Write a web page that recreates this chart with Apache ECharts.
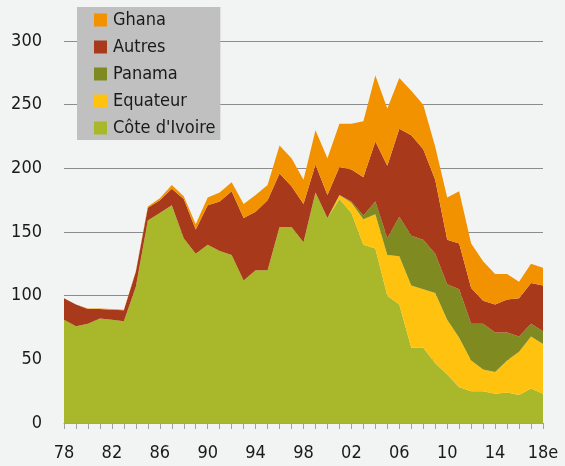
<!DOCTYPE html>
<html>
<head>
<meta charset="utf-8">
<script src="https://cdn.jsdelivr.net/npm/echarts@6/dist/echarts.min.js"></script>
<style>
  html, body { margin: 0; padding: 0; background: #f2f4f4; }
  #chart { width: 565px; height: 466px; }
</style>
</head>
<body>
<div id="chart"></div>
<script>
var years = [];
for (var y = 1978; y <= 2018; y++) years.push(String(y));

// tonnes (milliers)
var coteIvoire = [81, 76, 78, 82, 81, 80, 107, 159, 165, 171, 145, 133, 140, 135, 132, 112, 120, 120, 154, 154, 142, 181, 161, 176, 165, 140, 137, 100, 93, 59, 59, 47, 38, 28, 25, 25, 23, 24, 22, 27, 23];
var equateur = [0, 0, 0, 0, 0, 0, 0, 0, 0, 0, 0, 0, 0, 0, 0, 0, 0, 0, 0, 0, 0, 0, 0, 3, 8, 20, 27, 32, 38, 49, 46, 55, 43, 39, 24, 17, 17, 25, 34, 41, 39];
var panama = [0, 0, 0, 0, 0, 0, 0, 0, 0, 0, 0, 0, 0, 0, 0, 0, 0, 0, 0, 0, 0, 0, 0, 0, 1, 3, 10, 13, 31, 39, 39, 31, 28, 38, 29, 36, 31, 22, 12, 10, 10];
var autres = [17, 17, 11.5, 7.5, 8, 8.6, 11.8, 10, 10, 13, 31, 19, 31, 39, 50, 49, 46, 55, 42, 32, 30, 22, 18, 22, 25, 30, 47, 57, 69, 79, 71, 58, 35, 36, 28, 18, 22, 26, 30, 32, 36];
var ghana = [0, 0, 0.5, 0.5, 0.5, 0.4, 0.5, 1, 1.5, 3, 2, 4, 6, 7, 7, 11, 13, 12, 22, 22, 19, 27, 29, 34, 36, 44, 52, 45, 40, 35, 35, 26, 33, 41, 35, 31, 24, 20, 13, 15, 14];

var font = "'Liberation Sans Narrow', 'DejaVu Sans Condensed', sans-serif";

function area(name, data, color) {
  return {
    name: name,
    type: 'line',
    stack: 'total',
    data: data,
    symbol: 'none',
    lineStyle: { width: 0 },
    areaStyle: { color: color, opacity: 1 },
    itemStyle: { color: color }
  };
}

var chart = echarts.init(document.getElementById('chart'));
chart.setOption({
  backgroundColor: '#f2f4f4',
  animation: false,
  grid: { left: 64, right: 22, top: 41, bottom: 43 },
  legend: {
    orient: 'vertical',
    left: 77,
    top: 7,
    padding: [4, 5, 3, 17],
    backgroundColor: '#c0c0c0',
    itemWidth: 13,
    itemHeight: 13,
    itemGap: 9,
    icon: 'rect',
    data: ['Ghana', 'Autres', 'Panama', 'Equateur', "Côte d'Ivoire"],
    textStyle: { fontFamily: font, fontSize: 18, color: '#1a1a1a', padding: [0, 0, 0, 1] }
  },
  xAxis: {
    type: 'category',
    data: years,
    boundaryGap: false,
    axisLine: { lineStyle: { color: '#a0a0a0', width: 1 } },
    axisTick: { interval: 0, length: 6, lineStyle: { color: '#a0a0a0' } },
    axisLabel: {
      interval: 3,
      margin: 21,
      fontFamily: font,
      fontSize: 18,
      color: '#1a1a1a',
      formatter: function (v) { return v === '2018' ? '18e' : v.slice(2); }
    }
  },
  yAxis: {
    type: 'value',
    min: 0,
    max: 300,
    interval: 50,
    axisLine: { show: false },
    axisTick: { show: false },
    axisLabel: { margin: 22, fontFamily: font, fontSize: 18, color: '#1a1a1a' },
    splitLine: { lineStyle: { color: '#8c8c8c', width: 1 } }
  },
  series: [
    area("Côte d'Ivoire", coteIvoire, '#a8b82a'),
    area('Equateur', equateur, '#ffc20e'),
    area('Panama', panama, '#7f8a21'),
    area('Autres', autres, '#a83a1b'),
    area('Ghana', ghana, '#f39200')
  ]
});
</script>
</body>
</html>
